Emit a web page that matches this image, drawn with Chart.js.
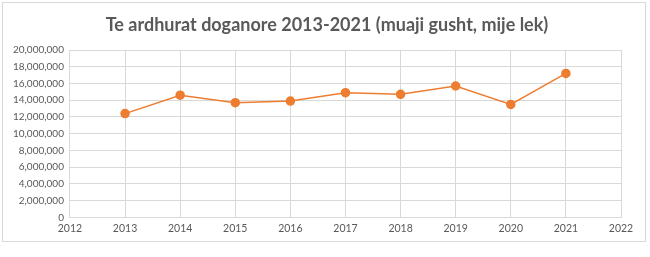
<!DOCTYPE html>
<html>
<head>
<meta charset="utf-8">
<script src="https://cdn.jsdelivr.net/npm/chart.js@4/dist/chart.umd.min.js"></script>
<style>
    html, body { margin: 0; padding: 0; background: #fff; }
    #frame {
        position: absolute; left: 2px; top: 2px;
        width: 644px; height: 240px;
        border: 1px solid #d9d9d9; box-sizing: border-box;
    }
    #title {
        position: absolute; left: 0; top: 8px; width: 644px;
        text-align: center; line-height: 26px;
        font-family: Lato, sans-serif; font-size: 18px; font-weight: bold;
        color: #595959; padding-left: 4px; box-sizing: border-box;
    }
    #chart { display: block; }
</style>
</head>
<body>
<div id="frame">
    <div id="title">Te ardhurat doganore 2013-2021 (muaji gusht, mije lek)</div>
    <canvas id="chart" width="642" height="238"></canvas>
</div>
<script>
// Te ardhurat doganore, muaji gusht (mije lek)
const years = [2013, 2014, 2015, 2016, 2017, 2018, 2019, 2020, 2021];
const revenue = [12400000, 14600000, 13700000, 13900000, 14900000, 14700000, 15700000, 13500000, 17200000];
const xMin = 2012;
const xMax = 2022;
const yMax = 20000000;
const yStep = 2000000;

const orange = '#ED7D31';
const grey = '#595959';
const gridColor = '#d9d9d9';

new Chart(document.getElementById('chart').getContext('2d'), {
    type: 'line',
    data: {
        datasets: [{
            data: years.map((y, i) => ({ x: y, y: revenue[i] })),
            borderColor: orange,
            backgroundColor: orange,
            borderWidth: 1.5,
            pointRadius: 4,
            pointBackgroundColor: orange,
            pointBorderColor: orange,
            tension: 0
        }]
    },
    options: {
        responsive: false,
        animation: false,
        layout: { padding: { left: 4, right: 24, top: 47, bottom: 1 } },
        plugins: {
            legend: { display: false },
            tooltip: { enabled: false }
        },
        scales: {
            x: {
                type: 'linear',
                min: xMin,
                max: xMax,
                grid: { color: gridColor, drawTicks: false },
                border: { color: gridColor },
                ticks: {
                    stepSize: 1,
                    color: grey,
                    padding: 5,
                    font: { family: 'Lato', size: 10.5 },
                    callback: v => String(v)
                }
            },
            y: {
                min: 0,
                max: yMax,
                grid: { color: gridColor, drawTicks: false },
                border: { color: gridColor },
                ticks: {
                    stepSize: yStep,
                    color: grey,
                    padding: 6,
                    font: { family: 'Lato', size: 10 },
                    callback: v => v.toLocaleString('en-US')
                }
            }
        }
    }
});
</script>
</body>
</html>
